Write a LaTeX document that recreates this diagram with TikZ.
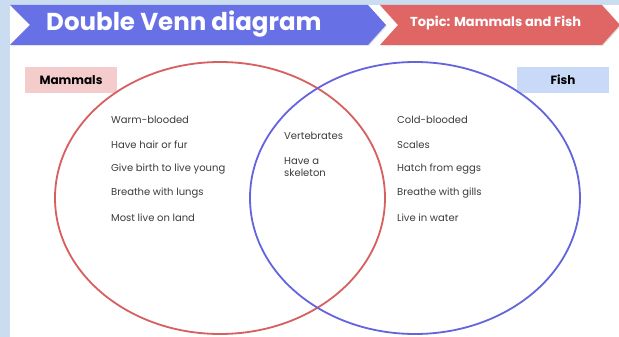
\documentclass[tikz,border=0pt]{standalone}
\usepackage{fontspec}
\setmainfont{Poppins}
\usetikzlibrary{positioning, shapes.geometric, shadows}

\definecolor{bgblue}{RGB}{201,220,240}
\definecolor{titleblue}{RGB}{104,112,230}
\definecolor{topicred}{RGB}{224,102,102}
\definecolor{setred}{RGB}{215,95,95}
\definecolor{setblue}{RGB}{100,100,222}
\definecolor{mamfill}{RGB}{244,204,204}
\definecolor{fishfill}{RGB}{201,218,248}
\definecolor{itemgray}{RGB}{60,60,60}

\tikzset{
	banner/.style={drop shadow={opacity=0.2, shadow xshift=0.8pt, shadow yshift=-1.2pt}},
	set/.style={ellipse, draw, line width=1.8pt, minimum width=330pt, minimum height=272pt, inner sep=0pt},
	setlabel/.style={minimum width=92pt, minimum height=26pt, inner sep=0pt, font=\fontsize{12}{14}\selectfont\bfseries},
	item/.style={anchor=west, inner sep=0pt, text=itemgray, font=\fontsize{10}{12}\selectfont}
}

\begin{document}
\begin{tikzpicture}[x=1pt, y=-1pt]

	\useasboundingbox (0, 0) rectangle (619, 337);
	\fill [bgblue] (0, 0) rectangle (619, 337);
	\fill [white] (10, 5) rectangle (619, 337);

	\fill [titleblue, banner] (10, 5) -- (368, 5) -- (386, 25) -- (368, 45) -- (10, 45) -- (30, 25) -- cycle;
	\fill [topicred, banner] (380, 5) -- (602, 5) -- (620, 25) -- (602, 45) -- (380, 45) -- (398, 25) -- cycle;

	\node [anchor=west, inner sep=0pt, text=white, font=\fontsize{24.5}{26}\selectfont\bfseries] (title) at (46, 24) {Double Venn diagram};
	\node [anchor=west, inner sep=0pt, text=white, font=\fontsize{13}{15}\selectfont\bfseries] (topic) at (410, 23) {Topic: Mammals and Fish};

	\node [setlabel, fill=mamfill] (mammals) at (71, 80) {Mammals};
	\node [setlabel, fill=fishfill] (fish) at (563, 80) {Fish};

	\node [set, draw=setred] (mammal-set) at (220, 198) {};
	\node [set, draw=setblue] (fish-set) at (415, 198) {};

	\foreach \m/\l [count=\y from 0] in {warm/Warm-blooded, hair/Have hair or fur, birth/Give birth to live young, lungs/Breathe with lungs, land/Most live on land}
		\node [item] (mammal-\m) at (111, 120 + \y*24.5) {\l};

	\foreach \m/\l [count=\y from 0] in {cold/Cold-blooded, scales/Scales, eggs/Hatch from eggs, gills/Breathe with gills, water/Live in water}
		\node [item] (fish-\m) at (397, 120 + \y*24.5) {\l};

	\node [item] (both-spine) at (284, 136) {Vertebrates};
	\node [item, align=left] (both-skeleton) at (284, 167) {Have a\\skeleton};

\end{tikzpicture}
\end{document}
